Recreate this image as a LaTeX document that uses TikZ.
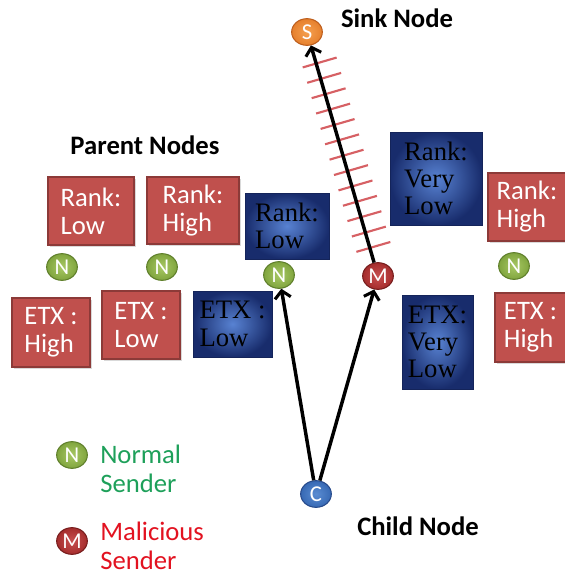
\documentclass[tikz,border=0pt]{standalone}
\usepackage{fontspec}
\setmainfont{Carlito}
\newfontfamily\serifbox{Liberation Serif}
\usetikzlibrary{shapes.geometric,arrows.meta,shadows,calc}

\definecolor{boxred}{RGB}{192,80,77}
\definecolor{boxredline}{RGB}{140,58,56}
\definecolor{blueinner}{RGB}{88,130,210}
\definecolor{blueouter}{RGB}{24,44,108}
\definecolor{bluerim}{RGB}{20,36,90}
\definecolor{hatchred}{RGB}{214,96,100}
\definecolor{normgreen}{RGB}{30,160,90}
\definecolor{malred}{RGB}{226,18,32}
% sender circle colours
\definecolor{ngin}{RGB}{168,200,100}
\definecolor{ngout}{RGB}{128,165,62}
\definecolor{ngrim}{RGB}{96,128,44}
\definecolor{mrin}{RGB}{200,80,80}
\definecolor{mrout}{RGB}{165,45,45}
\definecolor{mrrim}{RGB}{120,30,30}
\definecolor{soin}{RGB}{245,160,80}
\definecolor{soout}{RGB}{230,128,45}
\definecolor{sorim}{RGB}{190,95,30}
\definecolor{cbin}{RGB}{90,140,210}
\definecolor{cbout}{RGB}{55,105,180}
\definecolor{cbrim}{RGB}{40,75,140}

\tikzset{
  redbox/.style={draw=boxredline, line width=0.9pt, fill=boxred, text=white,
    font=\fontsize{20}{21}\selectfont, align=left, inner sep=2pt,
    drop shadow={opacity=0.3, shadow xshift=1.5pt, shadow yshift=-1.5pt}},
  bluebox/.style={draw=bluerim, line width=0.6pt, inner color=blueinner, outer color=blueouter,
    text=black, font=\serifbox\fontsize{20}{20.5}\selectfont, align=left, inner sep=2pt},
  sender/.style={ellipse, minimum width=23pt, minimum height=20pt, inner sep=0pt,
    text=white, font=\fontsize{17}{17}\selectfont, line width=0.8pt},
  normal/.style={sender, draw=ngrim, inner color=ngin, outer color=ngout},
  malicious/.style={sender, draw=mrrim, inner color=mrin, outer color=mrout},
  sinkc/.style={sender, draw=sorim, inner color=soin, outer color=soout},
  childc/.style={sender, draw=cbrim, inner color=cbin, outer color=cbout},
  heading/.style={font=\bfseries\fontsize{20}{21}\selectfont, text=black},
  legendtxt/.style={font=\fontsize{20}{21.75}\selectfont, align=left, anchor=west, inner sep=0pt},
  link/.style={line width=2.6pt, -{Straight Barb[length=5.5pt,width=12pt,line width=2.3pt]}},
  hatch/.style={draw=hatchred, line width=1.6pt}
}

\begin{document}
\begin{tikzpicture}[x=0.75pt, y=-0.75pt]
\useasboundingbox (0,0) rectangle (565,576);

% headings
\node[heading] (sinklbl) at (397,18) {Sink Node};
\node[heading] (parentlbl) at (145,145) {Parent Nodes};
\node[heading] (childlbl) at (418,526) {Child Node};

% parent candidates: rank boxes
\node[redbox, minimum width=64.5pt, minimum height=51pt] (r1) at (91,211) {Rank:\\Low};
\node[redbox, minimum width=69pt, minimum height=50.25pt] (r2) at (193,210.5) {Rank:\\High};
\node[bluebox, minimum width=63pt, minimum height=49.5pt] (r3) at (287,226) {Rank:\\Low};
\node[bluebox, minimum width=69pt, minimum height=69.75pt] (r4) at (436,178.5) {Rank:\\Very\\Low};
\node[redbox, minimum width=58.5pt, minimum height=51pt] (r5) at (527,207) {Rank:\\High};

% parent candidates: ETX boxes
\node[redbox, minimum width=58.5pt, minimum height=51.75pt] (e1) at (51,332.5) {ETX :\\High};
\node[redbox, minimum width=58.5pt, minimum height=51pt] (e2) at (141,325) {ETX :\\Low};
\node[bluebox, minimum width=59.25pt, minimum height=49.5pt] (e3) at (232.5,324) {ETX :\\Low};
\node[bluebox, minimum width=53.25pt, minimum height=70.5pt] (e4) at (437.5,342) {ETX:\\Very\\Low};
\node[redbox, minimum width=53.25pt, minimum height=51.75pt] (e5) at (530.5,327.5) {ETX :\\High};

% sender nodes
\node[normal] (n1) at (62,267) {N};
\node[normal] (n2) at (162,267) {N};
\node[normal] (n3) at (279,275) {N};
\node[malicious] (m) at (378,276) {M};
\node[normal] (n4) at (514,266) {N};
\node[sinkc] (s) at (307,32) {S};
\node[childc] (c) at (316,494) {C};

% hatching across the route through the malicious sender
\foreach \t in {0.115,0.178,...,0.89} {
  \coordinate (hp) at ($(m)!\t!(s)$);
  \draw[hatch] ($(hp)!10.5pt!90:(s)$) -- ($(hp)!16pt!-90:(s)$);
}

% routes
\draw[link] (c) -- (n3);
\draw[link] (c) -- (m);
\draw[link] (m) -- (s);

% legend
\node[normal] (ln) at (72,455) {N};
\node[legendtxt, text=normgreen] (lnt) at (100,469) {Normal\\Sender};
\node[malicious] (lm) at (72,541) {M};
\node[legendtxt, text=malred] (lmt) at (100,546) {Malicious\\Sender};
\end{tikzpicture}
\end{document}
